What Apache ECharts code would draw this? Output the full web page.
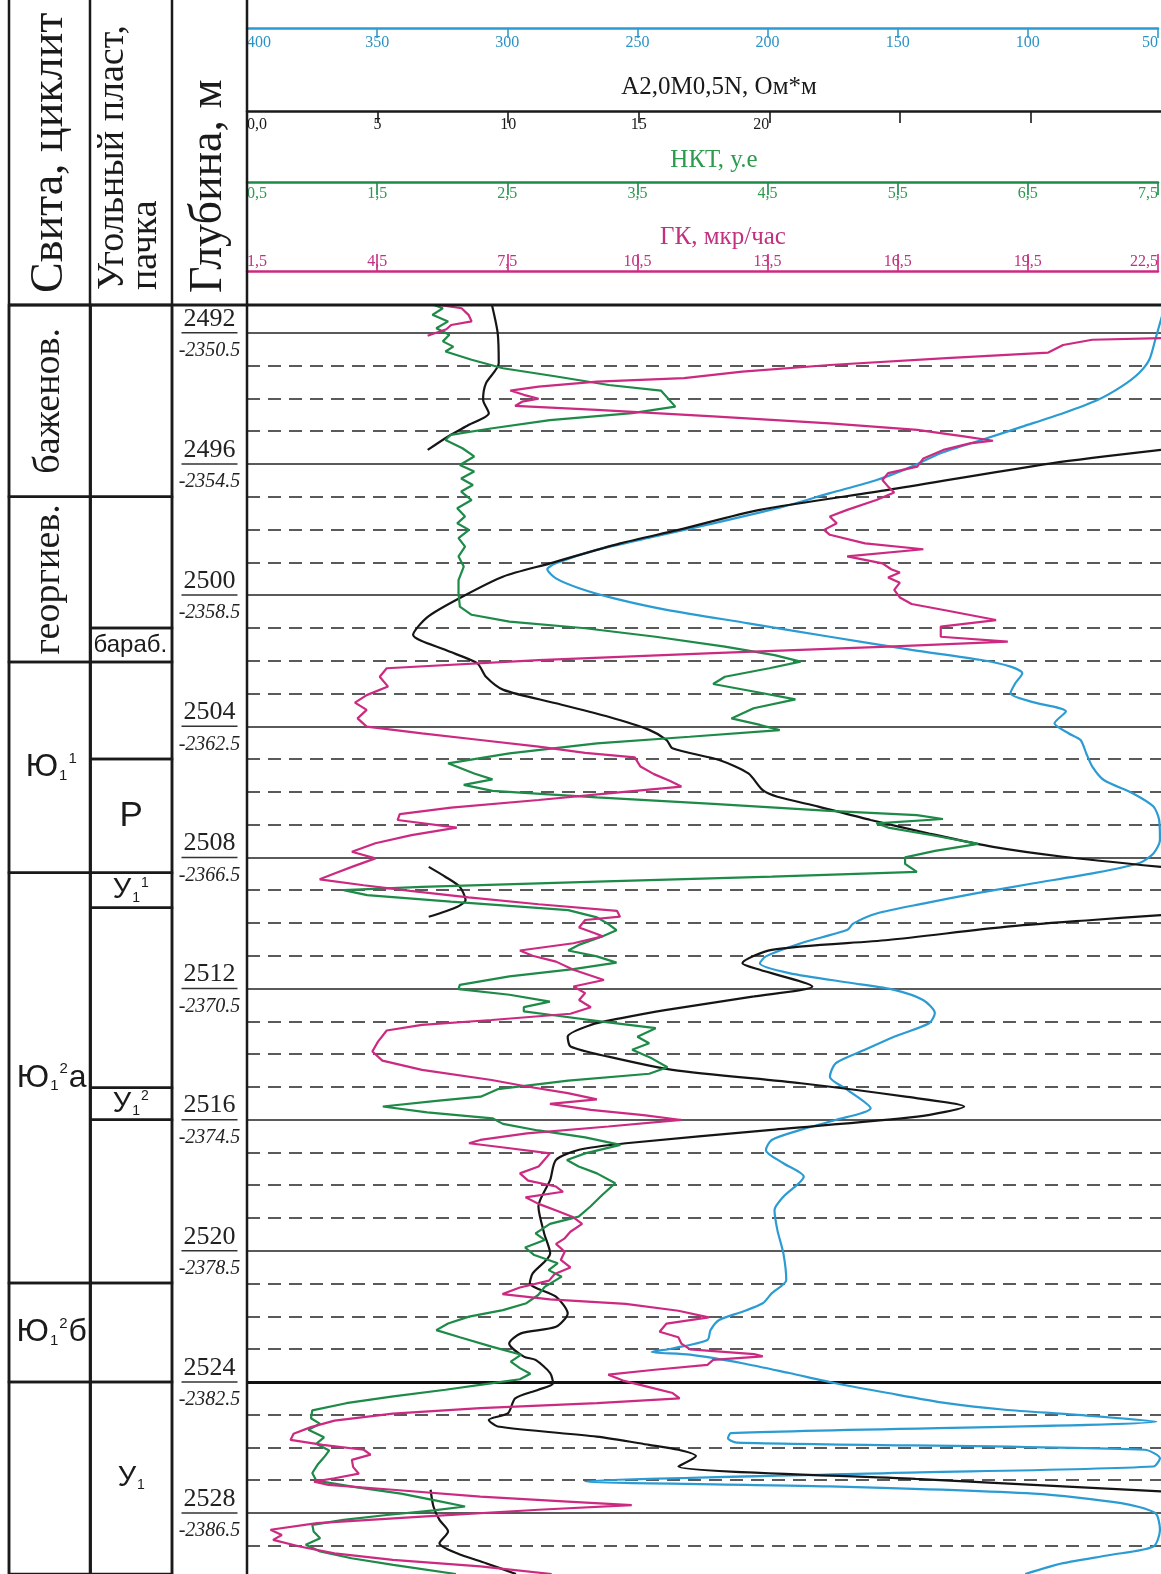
<!DOCTYPE html>
<html><head><meta charset="utf-8">
<script src="https://cdn.jsdelivr.net/npm/echarts@6/dist/echarts.min.js"></script>
<style>html,body{margin:0;padding:0;background:#fff}#c{width:1161px;height:1574px}</style>
</head><body><div id="c"></div>
<script>
// ---------- DATA ----------
const depthRange = [2491.15, 2529.86];
const depthMarks = [2492, 2496, 2500, 2504, 2508, 2512, 2516, 2520, 2524, 2528];
const absDepthLabels = ['-2350.5','-2354.5','-2358.5','-2362.5','-2366.5','-2370.5','-2374.5','-2378.5','-2382.5','-2386.5'];
const dashDepths = [2493,2494,2495,2497,2498,2499,2501,2502,2503,2505,2506,2507,2509,2510,2511,2513,2514,2515,2517,2518,2519,2521,2522,2523,2525,2526,2527,2529];

const suiteTop    = [2491.15, 2497.0, 2502.04, 2508.47, 2520.98, 2524.0];
const suiteBottom = [2497.0, 2502.04, 2508.47, 2520.98, 2524.0, 2529.86];
const suiteNames  = ['баженов.', 'георгиев.', 'Ю_1^1', 'Ю_1^2а', 'Ю_1^2б', ''];
const packTop     = [2491.15, 2497.0, 2501.0, 2502.04, 2505.0, 2508.47, 2509.54, 2515.03, 2516.0, 2520.98, 2524.0];
const packBottom  = [2497.0, 2501.0, 2502.04, 2505.0, 2508.47, 2509.54, 2515.03, 2516.0, 2520.98, 2524.0, 2529.86];
const packNames   = ['', '', 'бараб.', '', 'Р', 'У_1^1', '', 'У_1^2', '', '', 'У_1'];

const blueTicks = [400, 350, 300, 250, 200, 150, 100, 50];
const blackTicks = [0, 5, 10, 15, 20, 25, 30];
const blackLabels = [0, 5, 10, 15, 20];
const greenTicks = [0.5, 1.5, 2.5, 3.5, 4.5, 5.5, 6.5, 7.5];
const magentaTicks = [1.5, 4.5, 7.5, 10.5, 13.5, 16.5, 19.5, 22.5];

// [depth, value]
const blueLog = [[2491.45,49.5],[2492.21,52.2],[2492.82,54.5],[2493.23,58.5],[2493.64,65.2],[2494.04,74.1],[2494.45,87.5],[2494.86,103.1],[2495.27,118.8],[2495.67,134.4],
[2496.08,145.5],[2496.49,158.9],[2496.89,176.8],[2497.30,194.6],[2497.81,221.4],[2498.21,243.8],[2498.62,266.1],[2499.03,281.7],[2499.21,285.0],[2499.49,281.7],
[2499.79,272.8],[2500.10,259.4],[2500.45,239.3],[2500.86,208.0],[2501.27,176.8],[2501.67,145.5],[2501.98,118.8],[2502.18,107.6],[2502.38,103.1],[2502.69,105.8],
[2502.99,107.6],[2503.25,99.8],[2503.55,86.4],[2503.91,90.8],[2504.22,85.3],[2504.42,80.8],[2504.83,78.6],[2505.23,76.3],[2505.64,71.9],[2506.05,60.7],
[2506.45,52.9],[2506.86,50.7],[2507.47,50.4],[2507.88,52.9],[2508.18,58.5],[2508.49,76.3],[2508.79,98.7],[2509.10,121.0],[2509.41,141.1],[2509.71,158.9],
[2510.02,167.9],[2510.21,170.1],[2510.62,187.9],[2511.02,201.3],[2511.23,203.6],[2511.53,192.4],[2511.84,167.9],[2512.04,152.2],[2512.35,141.1],[2512.75,136.6],
[2513.06,138.8],[2513.47,152.2],[2513.87,163.4],[2514.28,174.6],[2514.69,176.8],[2515.09,170.1],[2515.65,161.2],[2516.01,174.6],[2516.31,187.9],[2516.62,199.1],
[2516.93,201.3],[2517.33,194.6],[2517.74,186.8],[2518.35,194.6],[2518.76,198.0],[2519.37,196.9],[2520.08,194.6],[2520.89,193.5],[2521.30,199.1],[2521.60,202.5],
[2521.86,210.3],[2522.11,219.2],[2522.42,222.5],[2522.72,223.7],[2522.98,237.1],[2523.09,245.0],[2523.17,230.4],[2523.43,210.3],[2523.73,192.4],[2524.04,174.6],
[2524.34,154.5],[2524.65,132.1],[2524.85,109.8],[2525.00,83.0],[2525.21,51.8],[2525.56,214.7],[2525.72,215.8],[2525.85,212.5],[2526.07,56.3],[2526.33,50.4],
[2526.58,52.9],[2526.78,154.5],[2527.04,270.5],[2527.19,176.8],[2527.41,98.7],[2527.70,65.2],[2528.00,52.2],[2528.51,50.4],[2529.02,52.9],[2529.28,69.6],
[2529.53,87.5],[2529.86,102.0]];

const blackLog = [[2491.15,9.38],[2492.01,9.60],[2492.93,9.64],[2493.54,9.15],[2494.04,9.04],[2494.45,9.26],[2494.81,8.48],[2495.16,7.70],[2495.57,6.92],
[2495.57,null],
[2495.57,35.0],[2495.98,30.8],[2496.79,24.55],[2497.40,19.64],[2498.01,16.52],[2498.42,14.29],[2499.03,11.61],[2499.43,9.82],[2500.04,8.26],[2500.66,6.92],
[2501.21,6.36],[2501.67,7.59],[2502.08,8.82],[2502.49,9.15],[2502.89,9.82],[2503.30,11.83],[2503.71,13.84],[2504.11,15.40],[2504.42,16.07],[2504.67,16.29],
[2505.03,18.08],[2505.44,19.20],[2505.95,19.75],[2506.15,20.31],[2506.45,21.88],[2506.86,23.88],[2507.27,26.12],[2507.68,28.57],[2507.98,31.25],[2508.29,35.0],
[2508.29,null],
[2508.29,6.96],[2508.59,7.59],[2508.90,8.15],[2509.30,8.37],[2509.51,8.04],[2509.81,6.96],
[2509.80,null],
[2509.76,35.0],[2509.91,32.37],[2510.12,29.02],[2510.52,24.55],[2510.82,20.09],[2511.23,18.97],[2511.43,19.64],[2511.94,21.65],[2512.24,19.42],[2512.65,16.07],
[2512.91,14.29],[2513.11,13.17],[2513.47,12.28],[2513.77,12.39],[2514.08,13.84],[2514.48,16.29],[2514.89,21.21],[2515.30,25.22],[2515.60,27.46],[2515.91,25.67],
[2516.31,20.09],[2516.72,14.51],[2516.92,12.72],[2517.23,11.83],[2517.84,11.61],[2518.65,11.16],[2519.47,11.38],[2520.08,11.61],[2520.69,10.94],[2520.99,10.83],
[2521.40,11.83],[2521.91,12.28],[2522.32,11.83],[2522.52,10.49],[2522.83,10.04],[2523.23,10.60],[2523.33,11.05],[2523.73,11.61],[2524.04,11.72],[2524.24,11.16],
[2524.50,10.27],[2524.95,10.00],[2525.16,9.26],[2525.36,9.60],[2525.67,13.39],[2525.92,15.40],[2526.07,16.52],[2526.26,17.19],[2526.58,16.52],[2526.96,25.6],[2527.34,35.0],
[2527.30,null],
[2527.29,7.03],[2527.80,7.14],[2528.21,7.37],[2528.56,7.70],[2528.92,7.37],[2529.23,8.04],[2529.53,9.15],[2529.86,10.3]];

const greenLog = [[2491.15,1.93],[2491.25,2.0],[2491.45,1.92],[2491.65,2.04],[2491.86,1.95],[2492.06,2.05],[2492.26,2.0],[2492.42,2.08],[2492.57,2.02],[2492.82,2.22],
[2493.08,2.46],[2493.33,2.87],[2493.59,3.27],[2493.76,3.67],[2494.25,3.78],[2494.45,3.45],[2494.66,2.82],[2494.91,2.38],[2495.11,2.06],[2495.27,2.02],
[2495.52,2.15],[2495.77,2.24],[2496.03,2.13],[2496.23,2.24],[2496.44,2.14],[2496.64,2.23],[2496.84,2.14],[2497.10,2.22],[2497.35,2.11],[2497.60,2.17],
[2497.81,2.11],[2498.01,2.20],[2498.26,2.12],[2498.52,2.17],[2498.82,2.12],[2499.13,2.16],[2499.54,2.12],[2499.94,2.12],[2500.35,2.13],[2500.60,2.22],
[2500.81,2.51],[2501.01,3.09],[2501.27,3.63],[2501.57,4.16],[2501.83,4.54],[2502.03,4.74],[2502.23,4.50],[2502.49,4.16],[2502.71,4.07],[2502.94,4.38],
[2503.18,4.70],[2503.45,4.38],[2503.76,4.21],[2503.96,4.43],[2504.12,4.58],[2504.32,3.89],[2504.52,3.18],[2504.83,2.51],[2505.13,2.04],[2505.44,2.24],
[2505.62,2.38],[2505.79,2.16],[2505.97,2.38],[2506.17,3.18],[2506.37,4.07],[2506.58,4.96],[2506.71,5.63],[2506.83,5.83],[2506.96,5.32],[2507.09,5.41],
[2507.34,5.77],[2507.59,6.10],[2507.80,5.77],[2508.00,5.54],[2508.20,5.54],[2508.44,5.63],[2508.59,4.52],[2508.74,3.18],[2508.90,1.84],[2509.00,1.24],
[2509.15,1.42],[2509.35,2.06],[2509.61,2.96],[2509.83,3.18],[2510.04,3.27],[2510.22,3.33],[2510.41,3.22],[2510.67,3.04],[2510.84,2.96],[2511.02,3.18],
[2511.21,3.33],[2511.41,3.0],[2511.63,2.51],[2511.89,2.13],[2512.02,2.12],[2512.19,2.51],[2512.40,2.82],[2512.57,2.62],[2512.70,2.62],[2512.80,2.82],
[2513.01,3.22],[2513.21,3.63],[2513.47,3.49],[2513.67,3.58],[2513.87,3.45],[2514.13,3.60],[2514.40,3.72],[2514.60,3.58],[2514.81,2.96],[2515.07,2.42],
[2515.30,2.29],[2515.42,1.97],[2515.60,1.54],[2515.78,1.88],[2515.96,2.38],[2516.13,2.46],[2516.33,2.73],[2516.54,3.09],[2516.77,3.36],[2517.03,3.09],
[2517.23,2.95],[2517.43,3.04],[2517.64,3.18],[2517.94,3.32],[2518.30,3.22],[2518.65,3.13],[2518.96,3.04],[2519.18,2.82],[2519.47,2.71],[2519.67,2.78],
[2519.90,2.63],[2520.13,2.70],[2520.38,2.88],[2520.59,2.81],[2520.79,2.91],[2521.10,2.78],[2521.35,2.73],[2521.60,2.64],[2521.81,2.46],[2522.01,2.20],
[2522.22,2.04],[2522.42,1.95],[2522.64,2.13],[2522.93,2.38],[2523.17,2.60],[2523.38,2.52],[2523.58,2.59],[2523.75,2.67],[2523.92,2.59],[2524.04,2.38],
[2524.24,2.02],[2524.44,1.62],[2524.65,1.26],[2524.87,1.0],[2525.11,0.99],[2525.28,1.06],[2525.46,0.97],[2525.69,1.09],[2525.89,1.03],[2526.09,1.13],
[2526.30,1.09],[2526.53,1.04],[2526.78,1.0],[2527.01,1.03],[2527.21,1.33],[2527.41,1.68],[2527.62,1.95],[2527.80,2.17],[2527.92,1.93],[2528.06,1.57],
[2528.21,1.24],[2528.36,1.0],[2528.56,1.01],[2528.77,1.06],[2528.97,0.95],[2529.17,1.06],[2529.38,1.30],[2529.58,1.62],[2529.86,2.1]];

const magentaLog = [[2491.15,5.92],[2491.25,6.43],[2491.45,6.59],[2491.65,6.66],[2491.76,6.19],[2491.89,6.08],[2492.09,5.65],
[2492.12,null],
[2492.16,22.5],[2492.21,20.92],[2492.37,20.25],[2492.60,19.91],[2492.77,17.57],[2492.98,14.89],[2493.18,12.88],[2493.38,11.54],[2493.49,9.54],[2493.64,8.20],
[2493.76,7.55],[2493.89,7.86],[2494.01,8.20],[2494.10,7.82],[2494.23,7.66],[2494.35,9.54],[2494.55,12.21],[2494.76,14.89],[2494.96,16.90],[2495.16,17.97],
[2495.29,18.64],[2495.37,18.11],[2495.57,17.50],[2495.83,17.04],[2496.08,16.90],[2496.28,16.23],[2496.49,16.10],[2496.69,16.23],[2496.87,16.37],[2497.10,15.96],
[2497.40,15.29],[2497.60,14.89],[2497.81,15.05],[2498.01,14.76],[2498.16,14.89],[2498.42,15.70],[2498.60,17.04],[2498.82,15.29],[2499.03,16.10],[2499.21,16.30],
[2499.31,16.50],[2499.46,16.23],[2499.62,16.50],[2499.84,16.37],[2500.07,16.50],[2500.27,16.77],[2500.47,17.57],[2500.76,18.71],[2500.96,17.44],[2501.27,17.44],
[2501.42,18.98],[2501.57,16.23],[2501.77,12.21],[2501.98,8.20],[2502.23,4.71],[2502.49,4.55],[2502.79,4.74],[2503.05,4.25],[2503.28,3.98],[2503.50,4.25],
[2503.76,4.04],[2504.01,4.25],[2504.22,5.52],[2504.42,6.86],[2504.62,8.20],[2504.81,9.27],[2504.95,10.41],[2505.23,10.54],[2505.46,10.85],[2505.66,11.21],
[2505.84,11.48],[2506.05,9.80],[2506.25,8.20],[2506.48,6.19],[2506.68,5.01],[2506.86,4.96],[2507.09,6.32],[2507.32,5.28],[2507.57,4.45],[2507.83,3.91],
[2508.03,4.45],[2508.29,3.91],[2508.49,3.51],[2508.67,3.17],[2508.85,4.18],[2509.02,5.25],[2509.22,6.59],[2509.43,8.20],[2509.63,10.00],[2509.81,10.07],
[2509.91,9.27],[2510.14,9.13],[2510.34,9.54],[2510.41,9.67],[2510.62,9.0],[2510.84,7.77],[2511.00,8.06],[2511.18,8.60],[2511.43,9.0],[2511.74,9.70],
[2511.94,9.0],[2512.14,9.27],[2512.35,9.13],[2512.57,9.40],[2512.77,8.93],[2512.96,7.12],[2513.11,5.52],[2513.28,4.71],[2513.62,4.51],[2513.92,4.38],
[2514.20,4.61],[2514.48,5.52],[2514.79,7.12],[2514.99,7.93],[2515.19,8.87],[2515.38,9.54],[2515.52,8.46],[2515.70,9.40],[2515.86,10.61],[2516.01,11.48],
[2516.21,9.80],[2516.42,7.93],[2516.62,6.86],[2516.72,6.6],[2516.85,7.4],[2517.03,8.46],[2517.23,8.33],[2517.43,8.20],[2517.64,7.77],[2517.86,7.96],
[2518.04,8.60],[2518.20,8.76],[2518.37,7.90],[2518.57,8.20],[2518.78,8.62],[2518.98,9.0],[2519.18,9.20],[2519.42,8.93],[2519.62,8.80],[2519.79,8.60],
[2520.03,8.80],[2520.28,8.71],[2520.51,8.93],[2520.71,8.57],[2520.91,8.44],[2521.12,7.77],[2521.32,7.37],[2521.48,8.46],[2521.62,10.20],[2521.83,11.41],
[2522.03,12.11],[2522.22,11.14],[2522.47,10.98],[2522.64,11.41],[2522.83,11.48],[2523.01,11.68],[2523.15,13.15],[2523.22,13.35],[2523.33,12.21],[2523.48,12.08],
[2523.63,10.87],[2523.78,9.80],[2523.96,10.14],[2524.16,10.74],[2524.34,11.28],[2524.50,11.44],[2524.65,9.54],[2524.80,6.86],[2524.97,4.85],[2525.18,3.51],
[2525.38,2.97],[2525.58,2.57],[2525.77,2.50],[2525.92,3.24],[2526.07,4.18],[2526.22,4.34],[2526.38,3.91],[2526.60,3.94],[2526.80,4.07],[2526.94,3.51],
[2527.04,3.04],[2527.14,3.37],[2527.29,4.85],[2527.50,6.86],[2527.65,8.87],[2527.76,10.34],[2527.90,8.20],[2528.11,5.52],[2528.31,3.11],[2528.51,2.04],
[2528.67,2.30],[2528.82,2.10],[2529.02,2.71],[2529.23,3.51],[2529.43,4.85],[2529.63,6.86],[2529.86,8.5]];

// ---------- STYLE ----------
const COL = { blue:'#2b9bd3', black:'#151515', green:'#1d8a48', magenta:'#cc2a80',
  blueTxt:'#2a93c6', greenTxt:'#2e9a4e', magTxt:'#c2307e', line:'#1a1a1a', grid:'#5a5a5a' };
const SERIF = '"Liberation Serif", "DejaVu Serif", serif';
const SANS = '"Liberation Sans", Arial, sans-serif';
const PLOT = { left: 247, width: 914, top: 305, height: 1269 };
const comma = v => String(v).replace('.', ',');

function toSeries(log) { return log.map(p => [p[1] === null ? '-' : p[1], p[0]]); }
function richIdx(s) { return s.replace(/_(\d)/g, '{sub|$1}').replace(/\^(\d)/g, '{sup|$1}'); }

const chart = echarts.init(document.getElementById('c'), null, { renderer: 'canvas' });

const depthAxis = (gi) => ({ gridIndex: gi, type: 'value', inverse: true, min: depthRange[0], max: depthRange[1], show: false });
const hidY = (gi) => ({ gridIndex: gi, type: 'value', show: false, min: 0, max: 1 });

function headerX(gi, min, max, inverse, color, txtColor, ticks, labels, fmt, labelInside, tickLen, margin) {
  return { gridIndex: gi, type: 'value', min, max, inverse, position: 'top',
    axisLine: { show: true, onZero: false, lineStyle: { color, width: 2.5 } },
    axisTick: { show: true, inside: labelInside, length: tickLen, customValues: ticks, lineStyle: { color, width: 1.6 } },
    axisLabel: { show: true, inside: labelInside, margin, color: txtColor, fontFamily: SERIF, fontSize: 16,
      customValues: labels, formatter: fmt, alignMinLabel: 'left', alignMaxLabel: 'right' },
    splitLine: { show: false } };
}

const option = {
  animation: false,
  backgroundColor: '#fff',
  grid: [
    { left: PLOT.left, width: PLOT.width, top: PLOT.top, height: PLOT.height },
    { left: PLOT.left, width: PLOT.width, top: 28, height: 20 },
    { left: PLOT.left, width: PLOT.width, top: 111, height: 20 },
    { left: PLOT.left, width: PLOT.width, top: 182, height: 20 },
    { left: PLOT.left, width: PLOT.width, top: 271, height: 20 },
    { left: 172, width: 75, top: PLOT.top, height: PLOT.height },
    { left: 9, width: 163, top: PLOT.top, height: PLOT.height }
  ],
  xAxis: [
    { gridIndex: 0, type: 'value', min: 50, max: 400, inverse: true, show: false },
    { gridIndex: 0, type: 'value', min: 0, max: 35, show: false },
    { gridIndex: 0, type: 'value', min: 0.5, max: 7.5, show: false },
    { gridIndex: 0, type: 'value', min: 1.5, max: 22.5, show: false },
    headerX(1, 50, 400, true, COL.blue, COL.blueTxt, blueTicks, blueTicks, v => String(v), true, 10, 7),
    headerX(2, 0, 35, false, COL.line, COL.line, blackTicks, blackLabels, v => v === 0 ? '0,0' : String(v), true, 12, 6),
    headerX(3, 0.5, 7.5, false, COL.green, COL.greenTxt, greenTicks, greenTicks, comma, true, 13, 4),
    headerX(4, 1.5, 22.5, false, COL.magenta, COL.magTxt, magentaTicks, magentaTicks, comma, false, 17, 1),
    { gridIndex: 5, type: 'value', min: 0, max: 1, show: false },
    { gridIndex: 6, type: 'value', min: 0, max: 2, show: false }
  ],
  yAxis: [depthAxis(0), hidY(1), hidY(2), hidY(3), hidY(4), depthAxis(5), depthAxis(6)],
  series: [
    { type: 'line', xAxisIndex: 1, yAxisIndex: 0, data: [], silent: true,
      markLine: { silent: true, symbol: ['none', 'none'], z: 1, animation: false, label: { show: false },
        data: [].concat(
          dashDepths.map(d => ({ yAxis: d, lineStyle: { color: COL.grid, width: 2, type: [13, 8] } })),
          depthMarks.map(d => ({ yAxis: d, lineStyle: d === 2524 ? { color: '#111', width: 3, type: 'solid' } : { color: COL.grid, width: 2, type: 'solid' } }))
        ) } },
    { type: 'line', xAxisIndex: 0, yAxisIndex: 0, data: toSeries(blueLog), symbol: 'none', smooth: 0.25, z: 3,
      lineStyle: { color: COL.blue, width: 2.2 } },
    { type: 'line', xAxisIndex: 1, yAxisIndex: 0, data: toSeries(blackLog), symbol: 'none', smooth: 0.25, z: 3,
      lineStyle: { color: COL.black, width: 2.2 } },
    { type: 'line', xAxisIndex: 2, yAxisIndex: 0, data: toSeries(greenLog), symbol: 'none', z: 4,
      lineStyle: { color: COL.green, width: 2.2 } },
    { type: 'line', xAxisIndex: 3, yAxisIndex: 0, data: toSeries(magentaLog), symbol: 'none', z: 5,
      lineStyle: { color: COL.magenta, width: 2.2 } },
    { type: 'custom', xAxisIndex: 8, yAxisIndex: 5, silent: true, clip: false,
      data: depthMarks.map((d, i) => [0.5, d, i]),
      encode: { x: 0, y: 1 },
      renderItem: function (params, api) {
        const d = api.value(1), i = api.value(2);
        const p = api.coord([0.5, d]);
        return { type: 'group', children: [
          { type: 'text', x: p[0], y: p[1] - 1, style: { text: String(d), font: '26px ' + SERIF, fill: '#222', align: 'center', verticalAlign: 'bottom' } },
          { type: 'line', shape: { x1: p[0] - 28, y1: p[1], x2: p[0] + 28, y2: p[1] }, style: { stroke: '#333', lineWidth: 1.5 } },
          { type: 'text', x: p[0], y: p[1] + 8, style: { text: absDepthLabels[i], font: 'italic 20px ' + SERIF, fill: '#222', align: 'center', verticalAlign: 'top' } }
        ] };
      } },
    { type: 'custom', xAxisIndex: 9, yAxisIndex: 6, silent: true, clip: false,
      data: suiteTop.map((t, i) => [0, t, suiteBottom[i], i]).concat(packTop.map((t, i) => [1, t, packBottom[i], i])),
      encode: { x: 0, y: [1, 2] },
      renderItem: function (params, api) {
        const col = api.value(0), t = api.value(1), b = api.value(2), i = api.value(3);
        const p1 = api.coord([col, t]), p2 = api.coord([col + 1, b]);
        const name = col === 0 ? suiteNames[i] : packNames[i];
        const cx = (p1[0] + p2[0]) / 2, cy = (p1[1] + p2[1]) / 2;
        const children = [{ type: 'rect', shape: { x: p1[0], y: p1[1], width: p2[0] - p1[0], height: p2[1] - p1[1] },
          style: { fill: 'none', stroke: COL.line, lineWidth: 2.5 } }];
        if (name) {
          if (name === 'баженов.' || name === 'георгиев.') {
            children.push({ type: 'text', x: cx - 1, y: cy, rotation: Math.PI / 2,
              style: { text: name, font: '38px ' + SERIF, fill: '#1a1a1a', align: 'center', verticalAlign: 'middle' } });
          } else if (name === 'бараб.') {
            children.push({ type: 'text', x: p1[0] + 3, y: cy, style: { text: name, font: '24px ' + SANS, fill: '#1a1a1a', align: 'left', verticalAlign: 'middle' } });
          } else {
            const big = name.charAt(0) === 'Ю' || name === 'Р';
            const fs = name.charAt(0) === 'Ю' ? 32 : (big ? 35 : 29);
            children.push({ type: 'text', x: cx + (big && col === 0 ? 2 : 0), y: cy, style: {
              text: richIdx(name), fontSize: fs, fontFamily: SANS, fill: '#1a1a1a', align: 'center', verticalAlign: 'middle',
              rich: {
                sub: { fontSize: Math.round(fs * 0.48), fontFamily: SANS, fill: '#1a1a1a', verticalAlign: 'bottom', padding: [0, 0, 0, 1] },
                sup: { fontSize: Math.round(fs * 0.48), fontFamily: SANS, fill: '#1a1a1a', verticalAlign: 'top', padding: [0, 1, 0, 1] }
              } } });
          }
        }
        return { type: 'group', children };
      } }
  ],
  graphic: [
    { type: 'line', z: 20, shape: { x1: 9, y1: 0, x2: 9, y2: 1574 }, style: { stroke: COL.line, lineWidth: 2.5 } },
    { type: 'line', z: 20, shape: { x1: 90, y1: 0, x2: 90, y2: 1574 }, style: { stroke: COL.line, lineWidth: 2.5 } },
    { type: 'line', z: 20, shape: { x1: 172, y1: 0, x2: 172, y2: 1574 }, style: { stroke: COL.line, lineWidth: 2.5 } },
    { type: 'line', z: 20, shape: { x1: 247, y1: 0, x2: 247, y2: 1574 }, style: { stroke: COL.line, lineWidth: 2.5 } },
    { type: 'line', z: 20, shape: { x1: 9, y1: 305, x2: 1161, y2: 305 }, style: { stroke: COL.line, lineWidth: 3 } },
    { type: 'text', x: 50, y: 293, rotation: Math.PI / 2, style: { text: 'Свита, циклит', font: '46px ' + SERIF, fill: '#1a1a1a', align: 'left', verticalAlign: 'middle' } },
    { type: 'text', x: 130, y: 290, rotation: Math.PI / 2, style: { text: 'Угольный пласт,\nпачка', font: '38px ' + SERIF, lineHeight: 33, fill: '#1a1a1a', align: 'left', verticalAlign: 'middle' } },
    { type: 'text', x: 209, y: 293, rotation: Math.PI / 2, style: { text: 'Глубина, м', font: '46px ' + SERIF, fill: '#1a1a1a', align: 'left', verticalAlign: 'middle' } },
    { type: 'text', x: 719, y: 87, style: { text: 'A2,0M0,5N, Ом*м', font: '25px ' + SERIF, fill: '#1a1a1a', align: 'center', verticalAlign: 'middle' } },
    { type: 'text', x: 714, y: 160, style: { text: 'НКТ, у.е', font: '25px ' + SERIF, fill: COL.greenTxt, align: 'center', verticalAlign: 'middle' } },
    { type: 'text', x: 723, y: 237, style: { text: 'ГК, мкр/час', font: '25px ' + SERIF, fill: COL.magTxt, align: 'center', verticalAlign: 'middle' } }
  ]
};
chart.setOption(option);
</script></body></html>
